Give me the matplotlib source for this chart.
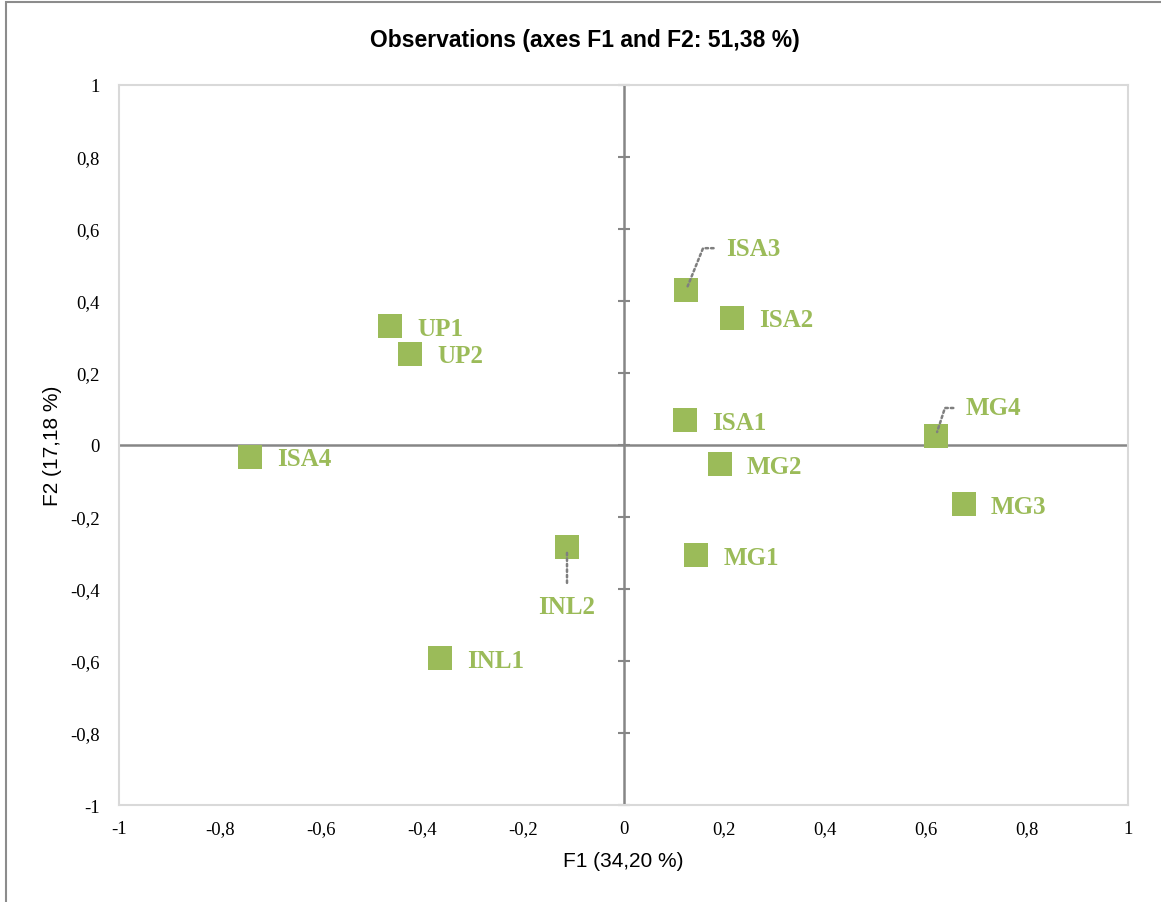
import matplotlib.pyplot as plt
import numpy as np
from matplotlib.patches import Rectangle

# observation coordinates on the first two factors
labels = ["ISA1", "ISA2", "ISA3", "ISA4", "UP1", "UP2",
          "INL1", "INL2", "MG1", "MG2", "MG3", "MG4"]
f1 = [0.122, 0.215, 0.124, -0.740, -0.463, -0.423,
      -0.364, -0.112, 0.144, 0.191, 0.675, 0.619]
f2 = [0.069, 0.353, 0.430, -0.033, 0.330, 0.253,
      -0.592, -0.283, -0.306, -0.053, -0.164, 0.025]
ticks = [-1, -0.8, -0.6, -0.4, -0.2, 0, 0.2, 0.4, 0.6, 0.8, 1]

green = "#9BBB59"
axis_grey = "#868686"

fig = plt.figure(figsize=(11.61, 9.03), dpi=100)
ax = fig.add_axes([0.1025, 0.1074, 0.8691, 0.7974])

ax.set_xlim(-1, 1)
ax.set_ylim(-1, 1)
for s in ax.spines.values():
    s.set_color("#D9D9D9")
    s.set_linewidth(1.5)

def fmt(v):
    return ("%g" % v).replace(".", ",")

ax.set_xticks(ticks)
ax.set_yticks(ticks)
ax.set_xticklabels([fmt(t) for t in ticks], family="Liberation Serif", fontsize=13.5)
ax.set_yticklabels([fmt(t) for t in ticks], family="Liberation Serif", fontsize=13.5)
ax.tick_params(axis="both", length=0)
ax.tick_params(axis="x", pad=11)
ax.tick_params(axis="y", pad=14)

# zero axes with small crossing ticks on the vertical one
ax.axhline(0, color=axis_grey, lw=1.8, zorder=1)
ax.axvline(0, color=axis_grey, lw=1.8, zorder=1)
ax.plot(np.zeros(len(ticks)), ticks, ls="none", marker="_",
        ms=9, mew=1.5, color=axis_grey, zorder=1, clip_on=False)

ax.scatter(f1, f2, marker="s", s=285, color=green, edgecolor="none", zorder=3)

# label placement in pixels (dx, dy), alignment and optional leader line
place = {
    "ISA3": (40, 42, "left", "angle,angleA=0,angleB=68,rad=0"),
    "MG4": (30, 28, "left", "angle,angleA=0,angleB=72,rad=0"),
    "INL2": (0, -60, "center", "arc3"),
}
for name, x, y in zip(labels, f1, f2):
    dx, dy, ha, conn = place.get(name, (27, -2, "left", None))
    kw = {}
    if conn is not None:
        relpos = (0.5, 1.0) if ha == "center" else (0.0, 0.5)
        kw["arrowprops"] = dict(arrowstyle="-", ls=(0, (1, 1.2)), lw=1.8,
                                color="#7F7F7F", connectionstyle=conn,
                                relpos=relpos, shrinkA=7, shrinkB=3)
    ax.annotate(name, (x, y), xytext=(dx, dy), textcoords="offset pixels",
                ha=ha, va="center", fontsize=18, fontweight="bold",
                family="Liberation Serif", color=green, zorder=4, **kw)

fig.text(585 / 1161, 1 - 40 / 903, "Observations (axes F1 and F2: 51,38 %)",
         ha="center", va="center", fontsize=16.5, fontweight="bold",
         family="Liberation Sans")
fig.text(623 / 1161, 1 - 862 / 903, "F1 (34,20 %)", ha="center", va="center",
         fontsize=15, family="Liberation Sans")
fig.text(52 / 1161, 1 - 446 / 903, "F2 (17,18 %)", ha="center", va="center",
         rotation=90, fontsize=15, family="Liberation Sans")

# outer chart frame
fig.add_artist(Rectangle((6 / 1161, -0.05), 1.1, 0.05 + 1 - 3 / 903,
                         transform=fig.transFigure, fill=False,
                         edgecolor="#8C8C8C", lw=1.5))

fig.savefig("out.png", dpi=100)
